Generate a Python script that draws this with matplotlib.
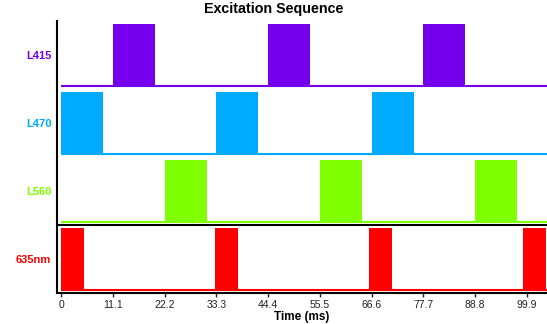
import numpy as np
import matplotlib.pyplot as plt

# channels, top to bottom
channels = ['L415', 'L470', 'L560', '635nm']
colors = ['#7400EE', '#00AAFF', '#80FF00', '#FF0000']

# pulse start times (ms) and widths
starts = [
    [11.1, 44.4, 77.7],
    [0.0, 33.3, 66.6],
    [22.2, 55.5, 88.8],
    [0.0, 33.0, 66.0, 99.0],
]
widths = [9.0, 9.0, 9.0, 5.0]

xticks = [0, 11.1, 22.2, 33.3, 44.4, 55.5, 66.6, 77.7, 88.8, 99.9]
xticklabels = ['0', '11.1', '22.2', '33.3', '44.4', '55.5', '66.6', '77.7', '88.8', '99.9']

plt.rcParams['font.family'] = ['Liberation Sans', 'DejaVu Sans']

fig = plt.figure(figsize=(5.47, 3.24), dpi=100)
ax = fig.add_axes([57 / 547, 31 / 324, 490 / 547, 272 / 324])

n = len(channels)
base = 0.05
h = 0.9
for i, (name, c) in enumerate(zip(channels, colors)):
    y0 = n - 1 - i + base
    ax.bar(starts[i], h, width=widths[i], bottom=y0, align='edge', color=c, linewidth=0)
    ax.plot([0, 110], [y0, y0], color=c, lw=1.5, solid_capstyle='butt')

ax.axhline(1.0, color='black', lw=1.5)

ax.set_xlim(-0.86, 104.2)
ax.set_ylim(0, n)
ax.set_yticks([n - 1 - i + 0.5 for i in range(n)])
ax.set_yticklabels(channels, fontsize=8, fontweight='bold')
for lab, c in zip(ax.get_yticklabels(), colors):
    lab.set_color(c)
ax.tick_params(axis='y', length=0, pad=4)
ax.set_xticks(xticks)
ax.set_xticklabels(xticklabels, fontsize=7.5)
ax.tick_params(axis='x', length=3, width=1, pad=2, colors='#222222')

for s in ['top', 'right']:
    ax.spines[s].set_visible(False)
for s in ['left', 'bottom']:
    ax.spines[s].set_linewidth(1.5)

ax.set_xlabel('Time (ms)', fontsize=8.5, fontweight='bold', labelpad=1)
fig.suptitle('Excitation Sequence', fontsize=10.3, fontweight='bold', y=0.995)

fig.savefig('out.png', dpi=100)
